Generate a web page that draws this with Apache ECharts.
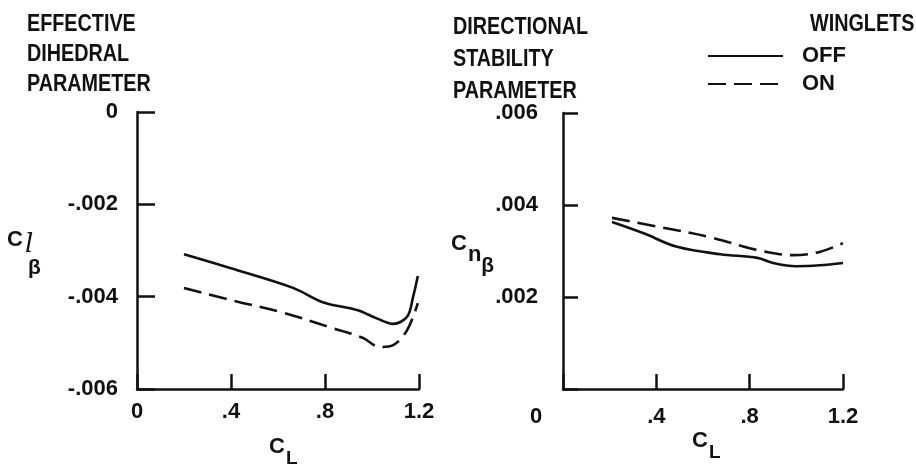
<!DOCTYPE html>
<html><head><meta charset="utf-8">
<script src="https://cdn.jsdelivr.net/npm/echarts@6/dist/echarts.min.js"></script>
<style>html,body{margin:0;padding:0;background:#fff}#c{width:916px;height:471px}</style>
</head><body><div id="c"></div>
<script>
// Left panel: effective dihedral parameter C_l_beta vs C_L
var offLeftCL = [0.2, 0.396, 0.664, 0.79, 0.936, 1.02, 1.09, 1.15, 1.175, 1.195];
var offLeftCl = [-0.00308, -0.00338, -0.00381, -0.00412, -0.00429, -0.00447, -0.00459, -0.00443, -0.0040, -0.00355];
var onLeftCL  = [0.2, 0.396, 0.61, 0.82, 0.96, 1.034, 1.09, 1.15, 1.195];
var onLeftCl  = [-0.00381, -0.00407, -0.00433, -0.00466, -0.00489, -0.00509, -0.00505, -0.00472, -0.00414];
// Right panel: directional stability parameter C_n_beta vs C_L
var offRightCL = [0.21, 0.343, 0.489, 0.674, 0.833, 0.90, 1.0, 1.1, 1.2];
var offRightCn = [0.00363, 0.00339, 0.00309, 0.00293, 0.00285, 0.00274, 0.00267, 0.00269, 0.00274];
var onRightCL  = [0.21, 0.416, 0.631, 0.833, 0.987, 1.10, 1.2];
var onRightCn  = [0.00372, 0.00352, 0.00330, 0.00302, 0.00291, 0.00298, 0.00317];
var seriesNames = ['OFF', 'ON'];

function pairs(xs, ys){ return xs.map(function(x,i){ return [x, ys[i]]; }); }

var TFONT = 'Liberation Sans';
var FS = 22;
var FW = 'bold';
var BLACK = '#111';
var DASH = [18, 8];

function xLabel(v){
  if (v === 0) return '0';
  var s = (Math.round(v*10)/10).toString();
  return s.replace(/^0\./, '.');
}
function yLabel(v){
  if (v === 0) return '0';
  var s = (Math.round(v*1000)/1000).toFixed(3);
  return s.replace(/^-0\./, '-.').replace(/^0\./, '.');
}

var axisLine = {onZero:false, lineStyle:{color:BLACK, width:2.5}};
var lineW = 2.6;

function ttext(x, y, txt, lh){
  return {type:'text', x:x, y:y, scaleX:0.86, style:{text:txt, fill:BLACK, fontSize:23, fontWeight:FW, fontFamily:TFONT, lineHeight:lh||30}};
}
var labelBase = {color:BLACK, fontSize:FS, fontFamily:TFONT, fontWeight:FW};
function lbl(extra){ var o = {}; for (var k in labelBase) o[k] = labelBase[k]; for (var k2 in extra) o[k2] = extra[k2]; return o; }

var option = {
  animation:false,
  backgroundColor:'#fff',
  textStyle:{fontFamily:TFONT},
  grid:[
    {left:137, top:112, width:282, height:277},
    {left:563, top:113, width:280, height:276}
  ],
  xAxis:[
    {type:'value', gridIndex:0, min:0, max:1.2, interval:0.4,
     axisLine:axisLine, splitLine:{show:false},
     axisTick:{inside:true, length:15, lineStyle:{color:BLACK, width:2.5}},
     axisLabel:lbl({margin:12, formatter:xLabel})},
    {type:'value', gridIndex:1, min:0, max:1.2, interval:0.4,
     axisLine:axisLine, splitLine:{show:false},
     axisTick:{inside:true, length:15, lineStyle:{color:BLACK, width:2.5}},
     axisLabel:lbl({margin:17,
       formatter:function(v){ return v === 0 ? '{z|0}' : xLabel(v); },
       rich:{z:{fontSize:FS, fontFamily:TFONT, fontWeight:FW, color:BLACK, padding:[0,54,0,0]}}})}
  ],
  yAxis:[
    {type:'value', gridIndex:0, min:-0.006, max:0, interval:0.002,
     axisLine:axisLine, splitLine:{show:false},
     axisTick:{inside:true, length:18, lineStyle:{color:BLACK, width:2.5}},
     axisLabel:lbl({margin:19, formatter:yLabel})},
    {type:'value', gridIndex:1, min:0, max:0.006, interval:0.002,
     axisLine:axisLine, splitLine:{show:false},
     axisTick:{inside:true, length:15, lineStyle:{color:BLACK, width:2.5}},
     axisLabel:lbl({margin:25, formatter:function(v){ return v === 0 ? '' : yLabel(v); }})}
  ],
  legend:{
    orient:'vertical', left:707, top:45, padding:0, itemWidth:75, itemHeight:14, itemGap:6,
    data:seriesNames,
    itemStyle:{opacity:0, color:'rgba(0,0,0,0)', borderWidth:0},
    textStyle:{color:BLACK, fontSize:FS, fontFamily:TFONT, fontWeight:FW, padding:[0,0,0,14]}
  },
  series:[
    {name:seriesNames[0], type:'line', xAxisIndex:0, yAxisIndex:0, data:pairs(offLeftCL, offLeftCl),
     smooth:0.35, showSymbol:false, symbol:'none', lineStyle:{color:BLACK, width:lineW}, itemStyle:{color:BLACK}},
    {name:seriesNames[1], type:'line', xAxisIndex:0, yAxisIndex:0, data:pairs(onLeftCL, onLeftCl),
     smooth:0.35, showSymbol:false, symbol:'none', lineStyle:{color:BLACK, width:lineW, type:DASH}, itemStyle:{color:BLACK}},
    {name:seriesNames[0], type:'line', xAxisIndex:1, yAxisIndex:1, data:pairs(offRightCL, offRightCn),
     smooth:0.35, showSymbol:false, symbol:'none', lineStyle:{color:BLACK, width:lineW}, itemStyle:{color:BLACK}},
    {name:seriesNames[1], type:'line', xAxisIndex:1, yAxisIndex:1, data:pairs(onRightCL, onRightCn),
     smooth:0.35, showSymbol:false, symbol:'none', lineStyle:{color:BLACK, width:lineW, type:DASH}, itemStyle:{color:BLACK}}
  ],
  graphic:[
    ttext(27, 10, 'EFFECTIVE\nDIHEDRAL\nPARAMETER', 30),
    ttext(453, 12, 'DIRECTIONAL\nSTABILITY\nPARAMETER', 32),
    ttext(810, 10, 'WINGLETS'),
    {type:'text', x:7, y:222, style:{text:'{c|C}{l|l}\n{b|β}', rich:{
       c:{fontSize:22, fontFamily:TFONT, fontWeight:FW, fill:BLACK},
       l:{fontSize:26, fontFamily:'DejaVu Serif', fontStyle:'italic', fill:BLACK, padding:[10,0,0,2]},
       b:{fontSize:21, fontFamily:TFONT, fontWeight:FW, fill:BLACK, padding:[0,0,0,21]}}}},
    {type:'text', x:451, y:226, style:{text:'{c|C}{n|n}{b|β}', rich:{
       c:{fontSize:22, fontFamily:TFONT, fontWeight:FW, fill:BLACK, padding:[0,0,16,0]},
       n:{fontSize:22, fontFamily:TFONT, fontWeight:FW, fill:BLACK, padding:[6,0,0,1]},
       b:{fontSize:21, fontFamily:TFONT, fontWeight:FW, fill:BLACK, padding:[30,0,0,0]}}}},
    {type:'text', x:269, y:435, style:{text:'{c|C}{l|L}', rich:{
       c:{fontSize:22, fontFamily:TFONT, fontWeight:FW, fill:BLACK, padding:[0,0,10,0]},
       l:{fontSize:19, fontFamily:TFONT, fontWeight:FW, fill:BLACK, padding:[14,0,0,1]}}}},
    {type:'text', x:692, y:429, style:{text:'{c|C}{l|L}', rich:{
       c:{fontSize:22, fontFamily:TFONT, fontWeight:FW, fill:BLACK, padding:[0,0,10,0]},
       l:{fontSize:19, fontFamily:TFONT, fontWeight:FW, fill:BLACK, padding:[14,0,0,1]}}}}
  ]
};
var chart = echarts.init(document.getElementById('c'), null, {renderer:'canvas'});
chart.setOption(option);
</script></body></html>
